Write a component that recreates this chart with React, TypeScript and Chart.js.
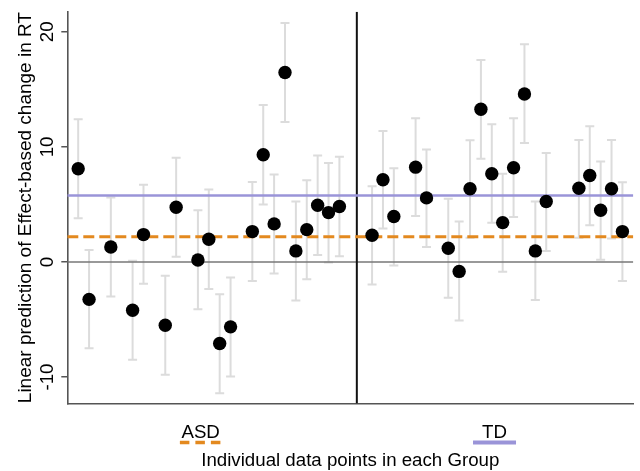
import React, { useEffect, useRef } from "react";
import { Chart, registerables } from "chart.js";

Chart.register(...registerables);

// ---- Data ----
const asdX = [1, 2, 4, 6, 7, 9, 10, 12, 13, 14, 15, 17, 18, 19, 20, 21, 22, 23, 24, 25];
const asdY = [8.1, -3.25, 1.3, -4.2, 2.38, -5.5, 4.76, 0.17, 1.97, -7.09, -5.64, 2.64, 9.32, 3.31, 16.46, 0.96, 2.81, 4.93, 4.29, 4.82];
const asdHigh = [12.4, 1.05, 5.6, 0.1, 6.7, -1.2, 9.05, 4.5, 6.3, -2.8, -1.35, 6.95, 13.65, 7.6, 20.76, 5.25, 7.1, 9.25, 8.6, 9.15];
const asdLow = [3.8, -7.5, -3.0, -8.5, -1.9, -9.8, 0.45, -4.1, -2.35, -11.4, -9.95, -1.65, 5.0, -1.0, 12.16, -3.35, -1.5, 0.6, -0.05, 0.5];

const tdX = [28, 29, 30, 32, 33, 35, 36, 37, 38, 39, 40, 41, 42, 43, 44, 47, 48, 49, 50, 51];
const tdY = [2.32, 7.14, 3.95, 8.24, 5.57, 1.19, -0.82, 6.36, 13.27, 7.67, 3.42, 8.19, 14.6, 0.96, 5.25, 6.41, 7.52, 4.5, 6.36, 2.64];
const tdHigh = [6.58, 11.38, 8.15, 12.5, 9.78, 5.49, 3.51, 10.57, 17.56, 11.96, 7.67, 12.48, 18.93, 5.26, 9.46, 10.6, 11.8, 8.74, 10.6, 6.93];
const tdLow = [-1.95, 2.9, -0.3, 4.0, 1.3, -3.1, -5.09, 2.1, 8.97, 3.4, -0.85, 3.9, 10.33, -3.31, 0.95, 2.1, 3.2, 0.2, 2.05, -1.66];

const groupLabels = ["ASD", "TD"];
const groupLabelX = [12.25, 39.25];
const yTickValues = [-10, 0, 10, 20];
const asdMean = 2.2;
const tdMean = 5.78;
const groupDivider = 26.6;
const xMin = 0;
const xMax = 52;
const yMin = -12.3;
const yMax = 21.75;

const FONT = "'Liberation Sans', Arial, sans-serif";
const TEXT = "#000000";
const ORANGE = "#e3891f";
const PURPLE = "#9a94d8";
const AXIS = "#555555";

const overlayPlugin = {
  id: "overlay",
  beforeDatasetsDraw(chart: any) {
    const { ctx, scales } = chart;
    const xs = scales.x;
    const ys = scales.y;
    ctx.save();
    ctx.strokeStyle = "#dcdcdc";
    ctx.lineWidth = 2;
    const drawBars = (px: number[], lo: number[], hi: number[]) => {
      for (let i = 0; i < px.length; i++) {
        const x = xs.getPixelForValue(px[i]);
        const y1 = ys.getPixelForValue(lo[i]);
        const y2 = ys.getPixelForValue(hi[i]);
        ctx.beginPath();
        ctx.moveTo(x, y1);
        ctx.lineTo(x, y2);
        ctx.moveTo(x - 4.5, y1);
        ctx.lineTo(x + 4.5, y1);
        ctx.moveTo(x - 4.5, y2);
        ctx.lineTo(x + 4.5, y2);
        ctx.stroke();
      }
    };
    drawBars(asdX, asdLow, asdHigh);
    drawBars(tdX, tdLow, tdHigh);
    ctx.restore();
  },
  afterDraw(chart: any) {
    const { ctx, scales, chartArea } = chart;
    const xs = scales.x;
    const ys = scales.y;
    ctx.save();
    // rotated y tick labels
    ctx.font = `18.7px ${FONT}`;
    ctx.fillStyle = TEXT;
    ctx.textAlign = "center";
    ctx.textBaseline = "alphabetic";
    for (const v of yTickValues) {
      const py = ys.getPixelForValue(v);
      ctx.save();
      ctx.translate(chartArea.left - 14, py);
      ctx.rotate(-Math.PI / 2);
      ctx.fillText(String(v), 0, 0);
      ctx.restore();
    }
    // legend keys under the group labels
    const keyY = xs.top + 39;
    const cA = xs.getPixelForValue(groupLabelX[0]) - 0.5;
    ctx.strokeStyle = ORANGE;
    ctx.lineWidth = 3.5;
    ctx.lineCap = "butt";
    ctx.setLineDash([9.5, 6]);
    ctx.beginPath();
    ctx.moveTo(cA - 20.25, keyY);
    ctx.lineTo(cA + 20.25, keyY);
    ctx.stroke();
    ctx.setLineDash([]);
    const cT = xs.getPixelForValue(groupLabelX[1]);
    ctx.strokeStyle = PURPLE;
    ctx.lineWidth = 3.8;
    ctx.beginPath();
    ctx.moveTo(cT - 21.5, keyY);
    ctx.lineTo(cT + 21.5, keyY);
    ctx.stroke();
    ctx.restore();
  },
};

const hLine = (y: number) => [
  { x: xMin, y },
  { x: xMax, y },
];

export default function App() {
  const ref = useRef<HTMLCanvasElement>(null);

  useEffect(() => {
    document.body.style.margin = "0";
    const canvas = ref.current;
    if (!canvas) return;
    const chart = new Chart(canvas, {
      type: "line",
      data: {
        datasets: [
          {
            label: "points",
            data: [
              ...asdX.map((x, i) => ({ x, y: asdY[i] })),
              ...tdX.map((x, i) => ({ x, y: tdY[i] })),
            ],
            showLine: false,
            pointRadius: 6.7,
            pointBackgroundColor: "#000000",
            pointBorderColor: "#000000",
            pointBorderWidth: 0,
            order: 0,
          },
          {
            label: "zero",
            data: hLine(0),
            borderColor: "#777777",
            borderWidth: 1.6,
            pointRadius: 0,
            order: 2,
          },
          {
            label: "ASD mean",
            data: hLine(asdMean),
            borderColor: ORANGE,
            borderWidth: 3,
            borderDash: [11, 5],
            pointRadius: 0,
            order: 1,
          },
          {
            label: "TD mean",
            data: hLine(tdMean),
            borderColor: PURPLE,
            borderWidth: 2.5,
            pointRadius: 0,
            order: 1,
          },
          {
            label: "divider",
            data: [
              { x: groupDivider, y: yMin },
              { x: groupDivider, y: yMax },
            ],
            borderColor: "#111111",
            borderWidth: 2,
            pointRadius: 0,
            order: 1,
          },
        ],
      },
      options: {
        animation: false,
        responsive: false,
        devicePixelRatio: 1,
        layout: { padding: { top: 11.7, right: 6, left: 0, bottom: 0 } },
        plugins: {
          legend: { display: false },
          tooltip: { enabled: false },
        },
        scales: {
          x: {
            type: "linear",
            min: xMin,
            max: xMax,
            afterBuildTicks: (s: any) => {
              s.ticks = groupLabelX.map((v) => ({ value: v }));
            },
            afterFit: (s: any) => {
              s.height = 67.5;
            },
            ticks: {
              autoSkip: false,
              maxRotation: 0,
              minRotation: 0,
              padding: 10,
              color: TEXT,
              font: { family: FONT, size: 18.7 },
              callback: (_v: any, i: number) => groupLabels[i],
            },
            grid: { display: false },
            border: { display: true, color: AXIS, width: 1.6 },
            title: {
              display: true,
              text: "Individual data points in each Group",
              color: TEXT,
              font: { family: FONT, size: 18.7, lineHeight: 1.1 },
              padding: { top: 0, bottom: 0 },
            },
          },
          y: {
            type: "linear",
            min: yMin,
            max: yMax,
            afterBuildTicks: (s: any) => {
              s.ticks = yTickValues.map((v) => ({ value: v }));
            },
            afterFit: (s: any) => {
              s.width = 67.3;
            },
            ticks: { display: false },
            grid: {
              display: true,
              drawOnChartArea: false,
              drawTicks: true,
              tickLength: 6,
              color: AXIS,
              lineWidth: 1.5,
            },
            border: { display: true, color: AXIS, width: 1.6 },
            title: {
              display: true,
              text: "Linear prediction of Effect-based change in RT",
              color: TEXT,
              font: { family: FONT, size: 19, lineHeight: 1.2 },
              padding: { top: 14, bottom: 0 },
            },
          },
        },
      },
      plugins: [overlayPlugin],
    } as any);
    return () => chart.destroy();
  }, []);

  return (
    <canvas
      ref={ref}
      width={640}
      height={471}
      style={{ display: "block", width: "640px", height: "471px" }}
    />
  );
}
